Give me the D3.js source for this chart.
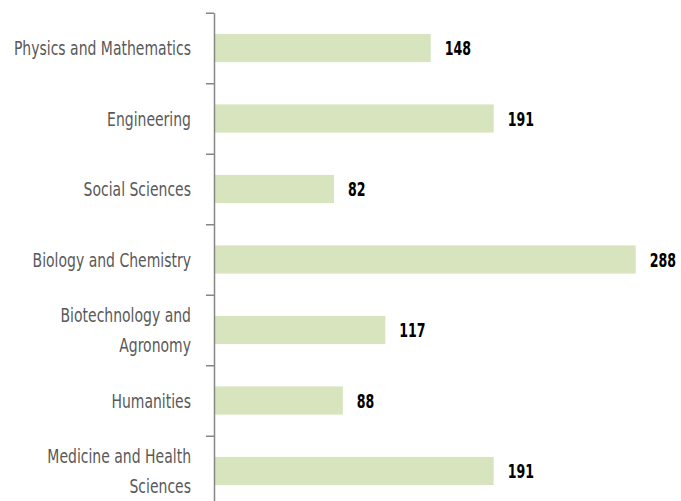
<!DOCTYPE html>
<html lang="en">
    <head>
        <meta charset="utf-8">
        <title>Bar chart by field</title>
        <script type="text/javascript" src="https://d3js.org/d3.v7.min.js"></script>
        <style type="text/css">
            body { margin: 0; background: #fff; }
            .cat { font-family: "DejaVu Sans", sans-serif; fill: #595959; }
            .val { font-family: "DejaVu Sans", sans-serif; font-weight: bold; fill: #000; }
        </style>
    </head>
    <body>
        <script type="text/javascript">

            // Datos
            var categories = [
                ["Physics and Mathematics"],
                ["Engineering"],
                ["Social Sciences"],
                ["Biology and Chemistry"],
                ["Biotechnology and", "Agronomy"],
                ["Humanities"],
                ["Medicine and Health", "Sciences"]
            ];
            var values = [148, 191, 82, 288, 117, 88, 191];

            var w = 681;
            var h = 501;
            var axisX = 214;
            var plotTop = 12.75;
            var step = 70.5;
            var labelX = 191;
            var catSquash = 0.7;  // fuente estrecha simulada
            var valSquash = 0.63;

            var svg = d3.select("body")
                        .append("svg")
                        .attr("width", w)
                        .attr("height", h);

            // Escalas
            var xScale = d3.scaleLinear()
                           .domain([0, 288])
                           .range([axisX, 635.7]);

            var yScale = d3.scaleBand()
                           .domain(d3.range(values.length))
                           .range([plotTop, plotTop + step * values.length])
                           .paddingInner(0.6)
                           .paddingOuter(0.3);

            // Limites de categoria para las marcas del eje
            var yEdge = d3.scaleLinear()
                          .domain([0, values.length])
                          .range([plotTop, plotTop + step * values.length]);

            function yMid(i) { return yScale(i) + yScale.bandwidth() / 2; }

            // Barras
            svg.selectAll("rect")
               .data(values)
               .enter()
               .append("rect")
               .attr("x", xScale(0))
               .attr("y", function(d, i) { return yScale(i); })
               .attr("width", function(d) { return xScale(d) - xScale(0); })
               .attr("height", yScale.bandwidth())
               .attr("fill", "#d7e4bd");

            // Eje
            var yAxis = d3.axisLeft(yEdge)
                          .tickValues(d3.range(values.length + 1))
                          .tickFormat("")
                          .tickSizeInner(8)
                          .tickSizeOuter(0);

            var gAxis = svg.append("g")
                           .attr("transform", "translate(" + axisX + ",0)")
                           .call(yAxis);
            gAxis.select(".domain").attr("stroke", "#868686").attr("stroke-width", 1.5);
            gAxis.selectAll(".tick line").attr("stroke", "#868686").attr("stroke-width", 1.5);

            // Etiquetas de categoria
            var cats = svg.selectAll("g.catlab")
               .data(categories)
               .enter()
               .append("g")
               .attr("class", "catlab")
               .attr("transform", function(d, i) {
                   return "translate(" + labelX + "," + (yMid(i) - (d.length - 1) * 15) + ") scale(" + catSquash + ",1)";
               })
               .append("text")
               .attr("class", "cat")
               .attr("font-size", 20)
               .attr("text-anchor", "end");
            cats.selectAll("tspan")
                .data(function(d) { return d; })
                .enter()
                .append("tspan")
                .attr("x", 0)
                .attr("y", function(d, j) { return j * 30; })
                .attr("dy", "0.36em")
                .text(function(d) { return d; });

            // Etiquetas de valor
            svg.selectAll("g.vallab")
               .data(values)
               .enter()
               .append("g")
               .attr("class", "vallab")
               .attr("transform", function(d, i) {
                   return "translate(" + (xScale(d) + 14) + "," + yMid(i) + ") scale(" + valSquash + ",1)";
               })
               .append("text")
               .attr("class", "val")
               .attr("font-size", 20)
               .attr("dy", "0.36em")
               .text(function(d) { return d; });
        </script>
    </body>
</html>
